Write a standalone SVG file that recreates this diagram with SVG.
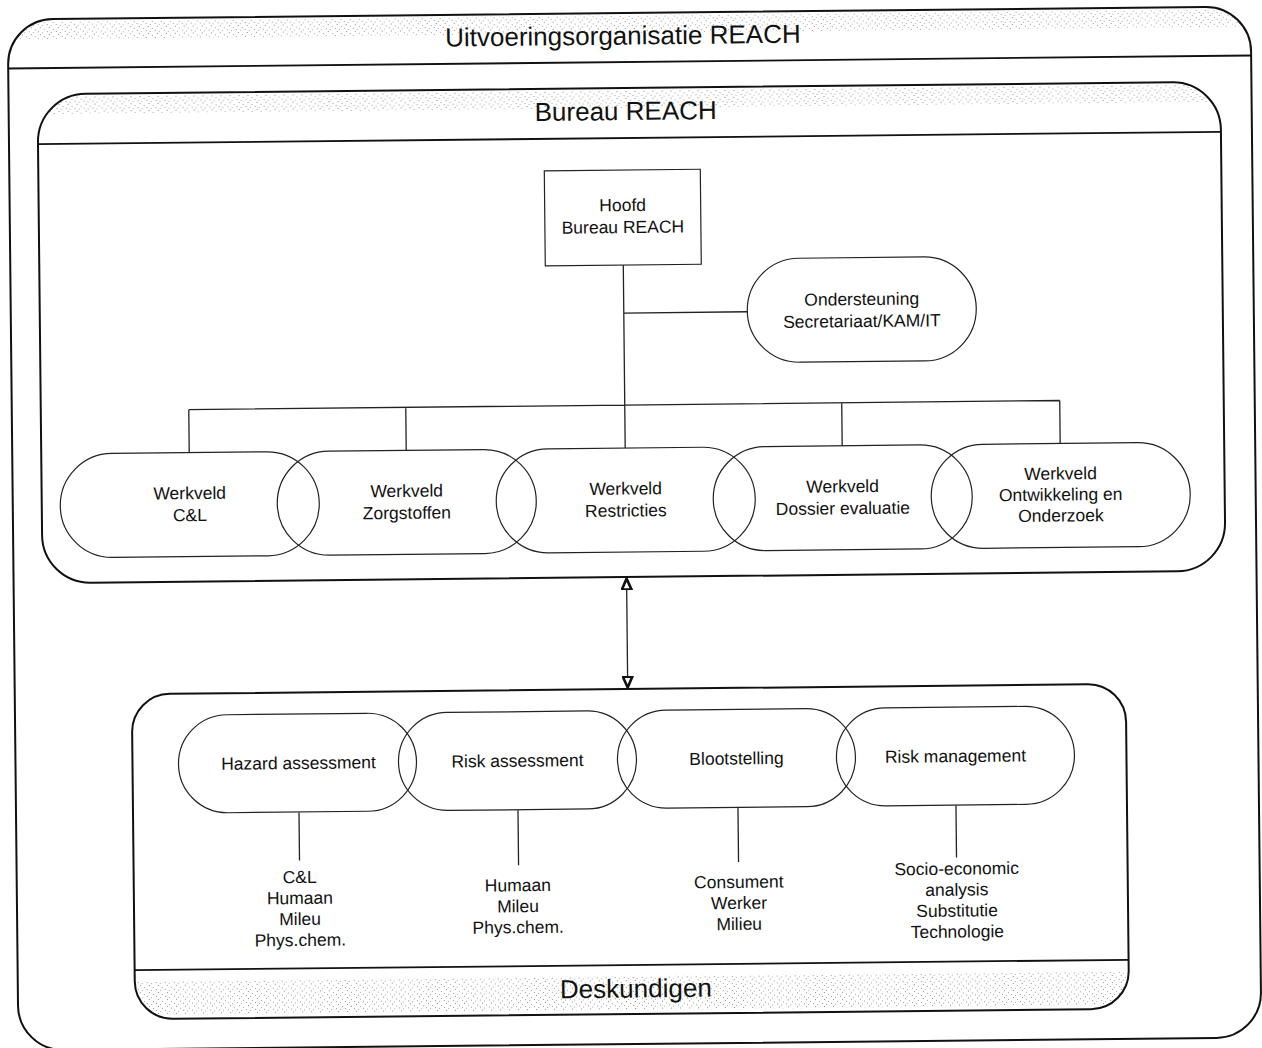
<svg xmlns="http://www.w3.org/2000/svg" width="1262" height="1048" viewBox="0 0 1262 1048">
<style>
text{font-family:"Liberation Sans",Arial,sans-serif;fill:#111;text-anchor:middle}
.t{font-size:26px}
.s{font-size:17.5px}
.frame{fill:none;stroke:#111;stroke-width:2}
.sep{stroke:#111;stroke-width:1.8}
.pill{fill:none;stroke:#222;stroke-width:1.2}
.box{fill:#fff;stroke:#222;stroke-width:1.2}
.ln{fill:none;stroke:#222;stroke-width:1.3}
</style>
<defs>
<pattern id="stip" width="9" height="7" patternUnits="userSpaceOnUse">
<rect x="0" y="0" width="1" height="1" fill="#8a8a8a"/>
<rect x="4" y="2" width="1" height="1" fill="#a0a0a0"/>
<rect x="7" y="4" width="1" height="1" fill="#999"/>
<rect x="2" y="5" width="1" height="1" fill="#aaa"/>
</pattern>
<clipPath id="cOuter"><rect x="13" y="13" width="1243" height="1031" rx="45"/></clipPath>
<clipPath id="cBur"><rect x="42" y="88" width="1183" height="489" rx="48"/></clipPath>
<clipPath id="cDes"><rect x="130" y="689" width="994" height="325" rx="38"/></clipPath>
<marker id="tri" viewBox="0 0 10 10" refX="10" refY="5" markerWidth="12" markerHeight="12" markerUnits="userSpaceOnUse" orient="auto-start-reverse">
<path d="M0.5,1 L9.5,5 L0.5,9 Z" fill="#fff" stroke="#111" stroke-width="2.2" stroke-linejoin="miter"/>
</marker>
</defs>
<rect width="1262" height="1048" fill="#fff"/>
<g transform="rotate(-0.6 631 524)">
<g id="outer">
<rect x="13" y="15" width="1243" height="18" fill="url(#stip)" clip-path="url(#cOuter)"/>
<rect class="frame" x="13" y="13" width="1243" height="1031" rx="45"/>
<line class="sep" x1="13" y1="62" x2="1256" y2="62"/>
<text class="t" x="628" y="44.5">Uitvoeringsorganisatie REACH</text>
</g>
<g id="bureau">
<rect x="42" y="90" width="1183" height="18" fill="url(#stip)" clip-path="url(#cBur)"/>
<rect class="frame" x="42" y="88" width="1183" height="489" rx="48"/>
<line class="sep" x1="42" y1="138" x2="1225" y2="138"/>
<text class="t" x="630" y="120">Bureau REACH</text>
</g>
<g id="deskundigen">
<rect x="130" y="976" width="994" height="34" fill="url(#stip)" clip-path="url(#cDes)"/>
<rect class="frame" x="130" y="689" width="994" height="325" rx="38"/>
<line class="sep" x1="130" y1="965" x2="1124" y2="965"/>
<text class="t" x="631" y="997.5">Deskundigen</text>
</g>
<g id="connectors">
<path class="ln" d="M626,265 V448 M626,313 H750 M190,405 H1061 M190,405 V448 M407,405 V448 M843,405 V448 M1061,405 V448"/>
<line class="ln" x1="626" y1="578" x2="626" y2="688" marker-start="url(#tri)" marker-end="url(#tri)"/>
<path class="ln" d="M296,809 V857 M515,809 V864 M735,809 V863 M953,809 V861"/>
</g>
<g id="hoofd">
<rect class="box" x="548" y="170" width="156" height="95"/>
<text class="s" x="626" y="211">Hoofd</text>
<text class="s" x="626" y="233">Bureau REACH</text>
</g>
<g id="ondersteuning">
<rect class="pill" x="749.5" y="260" width="229" height="104" rx="52"/>
<text class="s" x="864" y="307.5">Ondersteuning</text>
<text class="s" x="864" y="329.5">Secretariaat/KAM/IT</text>
</g>
<g id="wv-cl">
<rect class="pill" x="60.5" y="448" width="259" height="104" rx="52"/>
<text class="s" x="190" y="494.5">Werkveld</text>
<text class="s" x="190" y="516.5">C&amp;L</text>
</g>
<g id="wv-zorg">
<rect class="pill" x="277.5" y="448" width="259" height="104" rx="52"/>
<text class="s" x="407" y="494.5">Werkveld</text>
<text class="s" x="407" y="516.5">Zorgstoffen</text>
</g>
<g id="wv-restr">
<rect class="pill" x="496.5" y="448" width="259" height="104" rx="52"/>
<text class="s" x="626" y="494.5">Werkveld</text>
<text class="s" x="626" y="516.5">Restricties</text>
</g>
<g id="wv-dossier">
<rect class="pill" x="713.5" y="448" width="259" height="104" rx="52"/>
<text class="s" x="843" y="494.5">Werkveld</text>
<text class="s" x="843" y="516.5">Dossier evaluatie</text>
</g>
<g id="wv-oo">
<rect class="pill" x="931.5" y="448" width="259" height="104" rx="52"/>
<text class="s" x="1061" y="484">Werkveld</text>
<text class="s" x="1061" y="505">Ontwikkeling en</text>
<text class="s" x="1061" y="526">Onderzoek</text>
</g>
<g id="hazard">
<rect class="pill" x="176" y="710.5" width="238" height="98" rx="49"/>
<text class="s" x="296" y="765.5">Hazard assessment</text>
<text class="s" x="296" y="879.5">C&amp;L</text>
<text class="s" x="296" y="900.5">Humaan</text>
<text class="s" x="296" y="921.5">Mileu</text>
<text class="s" x="296" y="942.5">Phys.chem.</text>
</g>
<g id="risk">
<rect class="pill" x="396" y="710.5" width="238" height="98" rx="49"/>
<text class="s" x="515" y="765.5">Risk assessment</text>
<text class="s" x="514" y="890">Humaan</text>
<text class="s" x="514" y="911">Mileu</text>
<text class="s" x="514" y="932">Phys.chem.</text>
</g>
<g id="bloot">
<rect class="pill" x="615" y="710.5" width="238" height="98" rx="49"/>
<text class="s" x="734" y="765.5">Blootstelling</text>
<text class="s" x="735" y="889">Consument</text>
<text class="s" x="735" y="910">Werker</text>
<text class="s" x="735" y="931">Milieu</text>
</g>
<g id="riskman">
<rect class="pill" x="834" y="710.5" width="238" height="98" rx="49"/>
<text class="s" x="953" y="765.5">Risk management</text>
<text class="s" x="953" y="878">Socio-economic</text>
<text class="s" x="953" y="899">analysis</text>
<text class="s" x="953" y="920">Substitutie</text>
<text class="s" x="953" y="941">Technologie</text>
</g>
</g>
</svg>
